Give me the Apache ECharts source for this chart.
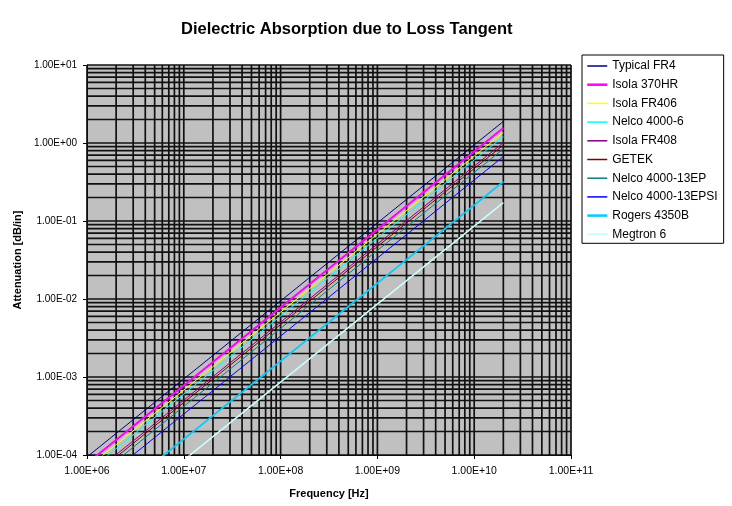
<!DOCTYPE html>
<html lang="en">
<head>
    <meta charset="UTF-8">
    <title>Dielectric Absorption due to Loss Tangent</title>
    <style>
        html, body { margin: 0; padding: 0; background: #fff; }
    </style>
</head>
<body>
<div id="main" style="width: 732px;height:506px;"></div>
<script src="https://cdn.jsdelivr.net/npm/echarts@6/dist/echarts.min.js"></script>
<script>
    // frequency points (Hz) and attenuation (dB/in)
    var freq = [1e6, 1e7, 1e8, 1e9, 1e10, 2e10];

    var typicalFR4   = [9.45e-5, 9.45e-4, 9.45e-3, 0.0945, 0.945, 1.89];
    var isola370HR   = [7.8e-5, 7.8e-4, 7.8e-3, 0.078, 0.78, 1.56];
    var isolaFR406   = [6.8e-5, 6.8e-4, 6.8e-3, 0.068, 0.68, 1.36];
    var nelco4000_6  = [6.05e-5, 6.05e-4, 6.05e-3, 0.0605, 0.605, 1.21];
    var isolaFR408   = [5.05e-5, 5.05e-4, 5.05e-3, 0.0505, 0.505, 1.01];
    var getek        = [4.7e-5, 4.7e-4, 4.7e-3, 0.047, 0.47, 0.94];
    var nelco13EP    = [4.2e-5, 4.2e-4, 4.2e-3, 0.042, 0.42, 0.84];
    var nelco13EPSI  = [3.35e-5, 3.35e-4, 3.35e-3, 0.0335, 0.335, 0.67];
    var rogers4350B  = [1.6e-5, 1.6e-4, 1.6e-3, 0.016, 0.16, 0.32];
    var megtron6     = [8.6e-6, 8.6e-5, 8.6e-4, 0.0086, 0.086, 0.172];

    var seriesNames = ['Typical FR4', 'Isola 370HR', 'Isola FR406', 'Nelco 4000-6', 'Isola FR408',
        'GETEK', 'Nelco 4000-13EP', 'Nelco 4000-13EPSI', 'Rogers 4350B', 'Megtron 6'];
    var seriesValues = [typicalFR4, isola370HR, isolaFR406, nelco4000_6, isolaFR408,
        getek, nelco13EP, nelco13EPSI, rogers4350B, megtron6];
    var seriesColors = ['#000080', '#ff00ff', '#ffff00', '#00ffff', '#800080',
        '#800000', '#008080', '#0000ff', '#00ccff', '#ccffff'];
    var seriesWidths = [1, 2, 1, 1, 1, 1, 1, 1, 1.8, 1.5];

    // axis ranges
    var xMin = 1e6, xMax = 1e11;
    var yMin = 1e-4, yMax = 1e1;

    // log grid lines (1..9 x each decade)
    function logGrid(lo, hi) {
        var out = [];
        for (var e = Math.round(Math.log10(lo)); e < Math.round(Math.log10(hi)); e++) {
            for (var m = 1; m <= 9; m++) {
                out.push(m * Math.pow(10, e));
            }
        }
        out.push(hi);
        return out;
    }
    var xGrid = logGrid(xMin, xMax);
    var yGrid = logGrid(yMin, yMax);

    function sciLabel(v) {
        var e = Math.round(Math.log10(v));
        var a = Math.abs(e);
        return '1.00E' + (e < 0 ? '-' : '+') + (a < 10 ? '0' + a : a);
    }

    var font = 'Liberation Sans, Arial, sans-serif';

    var series = [];
    // grid lines drawn as custom series so the log minor lines sit at 2..9
    series.push({
        type: 'custom',
        name: 'vgrid',
        silent: true,
        z: 1,
        data: xGrid.map(function (v) { return [v, 1]; }),
        renderItem: function (params, api) {
            var cs = params.coordSys;
            var p = api.coord([api.value(0), api.value(1)]);
            return {
                type: 'line',
                shape: {x1: p[0], y1: cs.y, x2: p[0], y2: cs.y + cs.height},
                style: {stroke: '#111', lineWidth: 1.7}
            };
        }
    });
    series.push({
        type: 'custom',
        name: 'hgrid',
        silent: true,
        z: 1,
        data: yGrid.map(function (v) { return [xMin, v]; }),
        renderItem: function (params, api) {
            var cs = params.coordSys;
            var p = api.coord([api.value(0), api.value(1)]);
            return {
                type: 'line',
                shape: {x1: cs.x, y1: p[1], x2: cs.x + cs.width, y2: p[1]},
                style: {stroke: '#111', lineWidth: 1.7}
            };
        }
    });

    for (var i = 0; i < seriesNames.length; i++) {
        var vals = seriesValues[i];
        series.push({
            name: seriesNames[i],
            type: 'line',
            z: 3,
            symbol: 'none',
            animation: false,
            clip: true,
            color: seriesColors[i],
            lineStyle: {color: seriesColors[i], width: seriesWidths[i]},
            data: freq.map(function (f, k) { return [f, vals[k]]; })
        });
    }

    var legendData = seriesNames.map(function (n, k) {
        return {name: n, lineStyle: {color: seriesColors[k], width: seriesWidths[k] > 1 ? 2.5 : 1.5}};
    });

    var myChart = echarts.init(document.getElementById('main'));
    var option = {
        backgroundColor: '#ffffff',
        animation: false,
        title: {
            text: 'Dielectric Absorption due to Loss Tangent',
            left: 181,
            top: 21,
            padding: 0,
            textStyle: {fontFamily: font, fontSize: 16.5, fontWeight: 'bold', color: '#000'}
        },
        legend: {
            orient: 'vertical',
            left: 582,
            top: 55,
            width: 142,
            padding: [5, 6, 3, 4],
            itemWidth: 20,
            itemHeight: 10,
            itemGap: 6.7,
            borderColor: '#000',
            borderWidth: 1,
            itemStyle: {opacity: 0},
            data: legendData,
            textStyle: {fontFamily: font, fontSize: 12, color: '#000'}
        },
        grid: {
            left: 87,
            right: 161,
            top: 65,
            bottom: 51,
            show: true,
            backgroundColor: '#c0c0c0',
            borderWidth: 0
        },
        xAxis: {
            type: 'log',
            logBase: 10,
            min: xMin,
            max: xMax,
            name: 'Frequency [Hz]',
            nameLocation: 'middle',
            nameGap: 33,
            nameTextStyle: {fontFamily: font, fontSize: 11, fontWeight: 'bold', color: '#000'},
            axisLine: {show: true, lineStyle: {color: '#000', width: 1}},
            axisTick: {show: true, length: 4, lineStyle: {color: '#000'}},
            axisLabel: {
                fontFamily: font, fontSize: 10.5, color: '#000', margin: 11,
                formatter: sciLabel
            },
            splitLine: {show: false}
        },
        yAxis: {
            type: 'log',
            logBase: 10,
            min: yMin,
            max: yMax,
            name: 'Attenuation [dB/in]',
            nameLocation: 'middle',
            nameGap: 64,
            nameTextStyle: {fontFamily: font, fontSize: 11, fontWeight: 'bold', color: '#000'},
            axisLine: {show: true, lineStyle: {color: '#000', width: 1}},
            axisTick: {show: true, length: 4, lineStyle: {color: '#000'}},
            axisLabel: {
                fontFamily: font, fontSize: 10, color: '#000', margin: 10,
                formatter: sciLabel
            },
            splitLine: {show: false}
        },
        series: series
    };
    myChart.setOption(option);
</script>
</body>
</html>
